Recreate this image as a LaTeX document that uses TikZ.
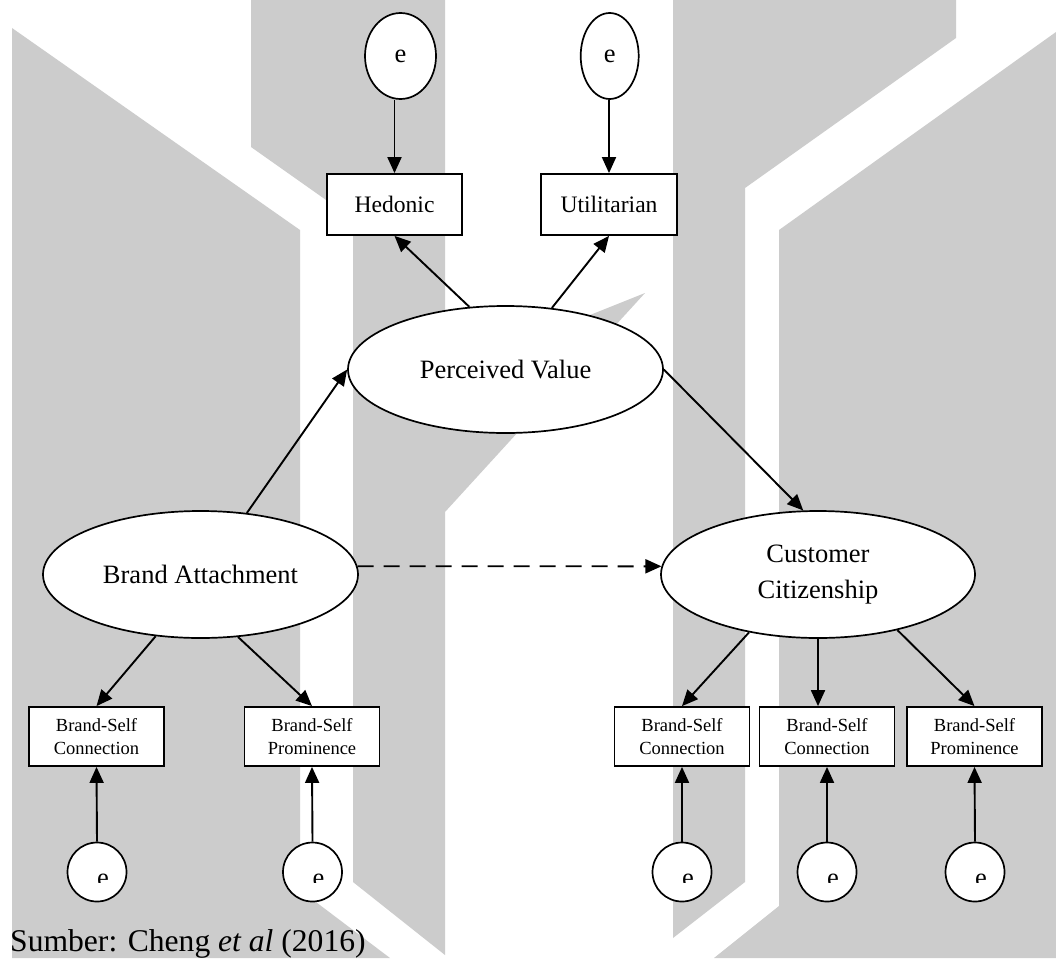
\documentclass[tikz,border=0pt]{standalone}
\usepackage{fontspec}
\setmainfont{Liberation Serif}
\usetikzlibrary{arrows.meta,shapes.geometric}
\definecolor{wmgrey}{RGB}{204,204,204}

\begin{document}
\begin{tikzpicture}[x=1pt,y=-1pt,
  link/.style={line width=1.9pt,-{Triangle[length=16pt,width=14pt]}},
  latent/.style={ellipse,draw,line width=1.7pt,fill=white,inner sep=0pt,
    minimum width=315pt,minimum height=127pt,align=center,
    font=\fontsize{26.5}{35.7}\selectfont},
  obs/.style={rectangle,draw,line width=1.8pt,fill=white,inner sep=0pt,
    minimum width=135pt,minimum height=61pt,font=\fontsize{23.6}{28}\selectfont},
  ind/.style={rectangle,draw,line width=1.8pt,fill=white,inner sep=0pt,
    minimum width=135pt,minimum height=59pt,align=center,
    font=\fontsize{18.5}{22.3}\selectfont},
  err/.style={ellipse,draw,line width=1.7pt,fill=white,inner sep=0pt,
    font=\fontsize{26.5}{30}\selectfont},
  errlabel/.style={anchor=base,inner sep=0pt,font=\fontsize{26.5}{30}\selectfont},
]
\useasboundingbox (0,0) rectangle (1056,958);
\fill[white] (0,0) rectangle (1056,958);

% background watermark shapes
\fill[wmgrey] (12,28) -- (300,230) -- (300,890) -- (390,958) -- (12,958) -- cycle;
\fill[wmgrey] (251,0) -- (445,0) -- (445,373) -- (645,293) -- (445,512)
  -- (445,955) -- (353,882) -- (353,219) -- (251,147) -- cycle;
\fill[wmgrey] (673,0) -- (956,0) -- (956,38) -- (745,188) -- (745,882)
  -- (673,938) -- cycle;
\fill[wmgrey] (1056,32) -- (779,230) -- (779,906) -- (714,958) -- (1056,958) -- cycle;

% latent constructs
\node[latent] (pv) at (505.5,369.5) {Perceived Value};
\node[latent] (ba) at (200.5,574.5) {Brand Attachment};
\node[latent,minimum width=314pt] (cc) at (818,574.5) {Customer\\Citizenship};

% indicators of perceived value
\node[obs] (hed) at (394.5,204.5) {Hedonic};
\node[obs,minimum width=136pt] (util) at (609,204.5) {Utilitarian};

% indicators of attachment and citizenship
\node[ind] (bsc1) at (96.5,736.5) {Brand-Self\\Connection};
\node[ind] (bsp1) at (312,736.5) {Brand-Self\\Prominence};
\node[ind] (bsc2) at (682,736.5) {Brand-Self\\Connection};
\node[ind] (bsc3) at (827,736.5) {Brand-Self\\Connection};
\node[ind] (bsp3) at (974.5,736.5) {Brand-Self\\Prominence};

% error terms
\node[err,minimum width=71pt,minimum height=86pt] (e1) at (400.5,56) {e};
\node[err,minimum width=58pt,minimum height=86pt] (e2) at (609.7,56) {e};
\node[err,minimum width=59pt,minimum height=59pt] (eb1) at (97,872) {};
\node[err,minimum width=59pt,minimum height=59pt] (eb2) at (312.5,872) {};
\node[err,minimum width=59pt,minimum height=59pt] (eb3) at (682,872) {};
\node[err,minimum width=59pt,minimum height=59pt] (eb4) at (827,872) {};
\node[err,minimum width=59pt,minimum height=59pt] (eb5) at (975,872) {};

\begin{scope}
  \clip (0,845) rectangle (1056,882);
  \node[errlabel] (eb1t) at (103,886) {e};
  \node[errlabel] (eb2t) at (318.5,886) {e};
  \node[errlabel] (eb3t) at (688,886) {e};
  \node[errlabel] (eb4t) at (833,886) {e};
  \node[errlabel] (eb5t) at (981,886) {e};
\end{scope}

% structural paths
\draw[link] (ba.53) -- (pv.west);
\draw[link] (pv.east) -- (cc.103);
\draw[link,dash pattern=on 16pt off 10pt] (ba.3) -- (cc.177);

% measurement paths
\draw[link] (pv.120) -- (hed.south);
\draw[link] (pv.53) -- (util.south);
\draw[link] (hed.north |- e1.south) -- (hed.north);
\draw[link] (util.north |- e2.south) -- (util.north);

\draw[link] (ba.234) -- (bsc1.north);
\draw[link] (ba.301) -- (bsp1.north);
\draw[link] (cc.220) -- (bsc2.north);
\draw[link] (cc.south) -- (cc.south |- bsc3.north);
\draw[link] (cc.325) -- (bsp3.north);

\draw[link] (eb1.north) -- (bsc1.south);
\draw[link] (eb2.north) -- (bsp1.south);
\draw[link] (eb3.north) -- (bsc2.south);
\draw[link] (eb4.north) -- (bsc3.south);
\draw[link] (eb5.north) -- (bsp3.south);

% source line
\node[anchor=base west,inner sep=0pt,font=\fontsize{31.6}{36}\selectfont] (src)
  at (10,951) {Sumber: Cheng \textit{et al} (2016)};
\end{tikzpicture}
\end{document}
